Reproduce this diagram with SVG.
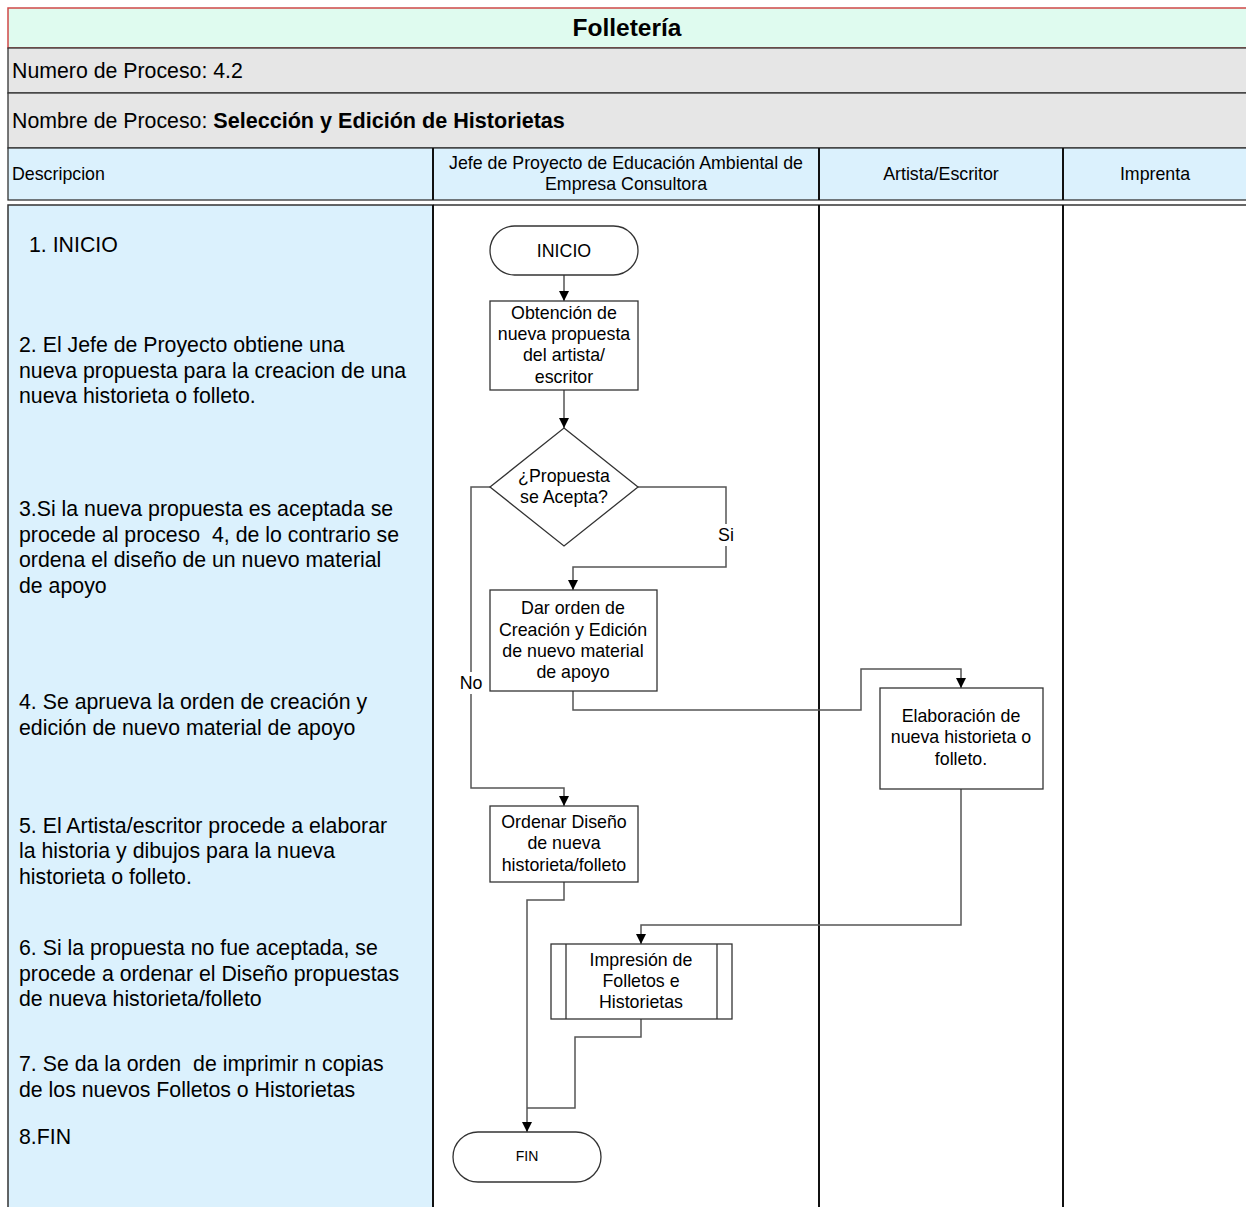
<svg xmlns="http://www.w3.org/2000/svg" width="1246" height="1207" viewBox="0 0 1246 1207">
<style>
  text { font-family: "Liberation Sans", Arial, sans-serif; fill: #000; }
  .hdr { font-size: 17.8px; }
  .desc { font-size: 21.3px; }
  .node { font-size: 17.8px; text-anchor: middle; }
  .shape { fill: #fff; stroke: #333; stroke-width: 1.3; }
  .conn { fill: none; stroke: #555; stroke-width: 1.5; }
  .lane { stroke: #111; stroke-width: 2; }
</style>
<defs>
  <marker id="arr" viewBox="0 0 10 10" refX="10" refY="5" markerWidth="10" markerHeight="10" markerUnits="userSpaceOnUse" orient="auto">
    <path d="M0,0 L10,5 L0,10 z" fill="#000"/>
  </marker>
</defs>
<rect width="1246" height="1207" fill="#fff"/>

<!-- header band -->
<g id="header">
  <rect x="8" y="8" width="1250" height="40" fill="#dffbef" stroke="#d04848" stroke-width="1.5"/>
  <text x="627" y="35.5" font-size="24.5" font-weight="bold" text-anchor="middle">Folletería</text>
  <rect x="8" y="48" width="1250" height="45" fill="#e6e6e6" stroke="#333" stroke-width="1.3"/>
  <text x="12" y="77.5" font-size="21.3">Numero de Proceso: 4.2</text>
  <rect x="8" y="93" width="1250" height="55" fill="#e6e6e6" stroke="#333" stroke-width="1.3"/>
  <text x="12" y="127.5" font-size="21.3">Nombre de Proceso: <tspan font-weight="bold" font-size="21.6">Selección y Edición de Historietas</tspan></text>
  <rect x="8" y="148" width="1250" height="52" fill="#dbf1fd" stroke="#333" stroke-width="1.3"/>
  <line class="lane" x1="433" y1="148" x2="433" y2="200" stroke-width="1.3"/>
  <line class="lane" x1="819" y1="148" x2="819" y2="200" stroke-width="1.3"/>
  <line class="lane" x1="1063" y1="148" x2="1063" y2="200" stroke-width="1.3"/>
  <text class="hdr" x="12" y="180">Descripcion</text>
  <text class="hdr" x="626" y="169" text-anchor="middle">Jefe de Proyecto de Educación Ambiental de</text>
  <text class="hdr" x="626" y="190" text-anchor="middle">Empresa Consultora</text>
  <text class="hdr" x="941" y="180" text-anchor="middle">Artista/Escritor</text>
  <text class="hdr" x="1155" y="180" text-anchor="middle">Imprenta</text>
</g>

<!-- swimlane body -->
<g id="lanes">
  <rect x="8" y="205" width="425" height="1010" fill="#dbf1fd" stroke="#333" stroke-width="1.5"/>
  <line x1="433" y1="205" x2="1246" y2="205" stroke="#333" stroke-width="1.3"/>
  <line class="lane" x1="433" y1="205" x2="433" y2="1207"/>
  <line class="lane" x1="819" y1="205" x2="819" y2="1207"/>
  <line class="lane" x1="1063" y1="205" x2="1063" y2="1207"/>
</g>

<!-- step descriptions -->
<g id="description">
  <text class="desc" x="29" y="252">1. INICIO</text>
  <text class="desc" x="19" y="352">2. El Jefe de Proyecto obtiene una</text>
  <text class="desc" x="19" y="377.5">nueva propuesta para la creacion de una</text>
  <text class="desc" x="19" y="403">nueva historieta o folleto.</text>
  <text class="desc" x="19" y="516">3.Si la nueva propuesta es aceptada se</text>
  <text class="desc" x="19" y="541.5" xml:space="preserve">procede al proceso  4, de lo contrario se</text>
  <text class="desc" x="19" y="567">ordena el diseño de un nuevo material</text>
  <text class="desc" x="19" y="592.5">de apoyo</text>
  <text class="desc" x="19" y="709">4. Se aprueva la orden de creación y</text>
  <text class="desc" x="19" y="734.5">edición de nuevo material de apoyo</text>
  <text class="desc" x="19" y="832.5">5. El Artista/escritor procede a elaborar</text>
  <text class="desc" x="19" y="858">la historia y dibujos para la nueva</text>
  <text class="desc" x="19" y="883.5">historieta o folleto.</text>
  <text class="desc" x="19" y="955">6. Si la propuesta no fue aceptada, se</text>
  <text class="desc" x="19" y="980.5">procede a ordenar el Diseño propuestas</text>
  <text class="desc" x="19" y="1006">de nueva historieta/folleto</text>
  <text class="desc" x="19" y="1071" xml:space="preserve">7. Se da la orden  de imprimir n copias</text>
  <text class="desc" x="19" y="1096.5">de los nuevos Folletos o Historietas</text>
  <text class="desc" x="19" y="1144">8.FIN</text>
</g>

<!-- connectors -->
<g id="connectors">
  <path class="conn" d="M564,275 V301" marker-end="url(#arr)"/>
  <path class="conn" d="M564,390 V428" marker-end="url(#arr)"/>
  <path class="conn" d="M638,487 H726 V567 H573 V590" marker-end="url(#arr)"/>
  <path class="conn" d="M490,487 H471 V788 H564 V806" marker-end="url(#arr)"/>
  <path class="conn" d="M573,691 V710 H861 V669 H961 V688" marker-end="url(#arr)"/>
  <path class="conn" d="M961,789 V925 H641 V944" marker-end="url(#arr)"/>
  <path class="conn" d="M564,882 V900 H527 V1132" marker-end="url(#arr)"/>
  <path class="conn" d="M641,1019 V1037 H575 V1108 H527"/>
  <rect x="715" y="524" width="22" height="22" fill="#fff"/>
  <text x="726" y="541" font-size="17.8" text-anchor="middle">Si</text>
  <rect x="457" y="672" width="28" height="22" fill="#fff"/>
  <text x="471" y="689" font-size="17.8" text-anchor="middle">No</text>
</g>

<!-- flow nodes -->
<g id="n-inicio">
  <rect class="shape" x="490" y="226" width="148" height="49" rx="24.5"/>
  <text class="node" x="564" y="256.5">INICIO</text>
</g>
<g id="n-obtencion">
  <rect class="shape" x="490" y="301" width="148" height="89"/>
  <text class="node" x="564" y="319">Obtención de</text>
  <text class="node" x="564" y="340">nueva propuesta</text>
  <text class="node" x="564" y="361">del artista/</text>
  <text class="node" x="564" y="383">escritor</text>
</g>
<g id="n-decision">
  <polygon class="shape" points="564,428 638,487 564,546 490,487"/>
  <text class="node" x="564" y="482">¿Propuesta</text>
  <text class="node" x="564" y="503">se Acepta?</text>
</g>
<g id="n-orden">
  <rect class="shape" x="490" y="590" width="167" height="101"/>
  <text class="node" x="573" y="614">Dar orden de</text>
  <text class="node" x="573" y="636">Creación y Edición</text>
  <text class="node" x="573" y="657">de nuevo material</text>
  <text class="node" x="573" y="678">de apoyo</text>
</g>
<g id="n-elaboracion">
  <rect class="shape" x="880" y="688" width="163" height="101"/>
  <text class="node" x="961" y="722">Elaboración de</text>
  <text class="node" x="961" y="743">nueva historieta o</text>
  <text class="node" x="961" y="765">folleto.</text>
</g>
<g id="n-diseno">
  <rect class="shape" x="490" y="806" width="148" height="76"/>
  <text class="node" x="564" y="828">Ordenar Diseño</text>
  <text class="node" x="564" y="849">de nueva</text>
  <text class="node" x="564" y="871">historieta/folleto</text>
</g>
<g id="n-impresion">
  <rect class="shape" x="551" y="944" width="181" height="75"/>
  <line x1="566" y1="944" x2="566" y2="1019" stroke="#333" stroke-width="1.3"/>
  <line x1="717" y1="944" x2="717" y2="1019" stroke="#333" stroke-width="1.3"/>
  <text class="node" x="641" y="966">Impresión de</text>
  <text class="node" x="641" y="987">Folletos e</text>
  <text class="node" x="641" y="1008">Historietas</text>
</g>
<g id="n-fin">
  <rect class="shape" x="453" y="1132" width="148" height="50" rx="25"/>
  <text x="527" y="1161" font-size="14" text-anchor="middle">FIN</text>
</g>
</svg>
